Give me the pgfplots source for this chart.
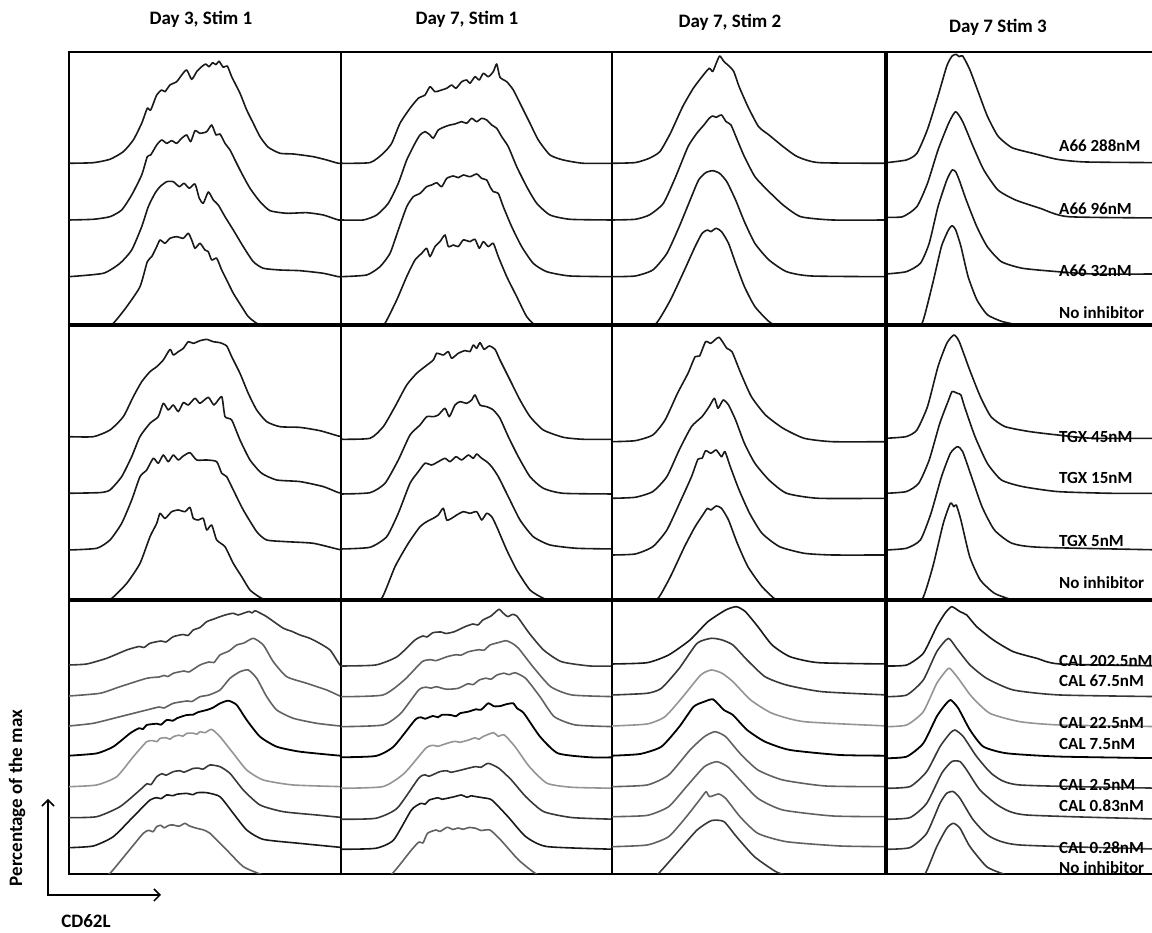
\documentclass[border=0pt]{standalone}
\usepackage{fontspec}
\setmainfont{Carlito}
\usepackage{pgfplots}
\pgfplotsset{compat=1.18}
\usetikzlibrary{arrows.meta}
\colorlet{kA}{black!90}
\colorlet{kB}{black!78}
\colorlet{kC}{black!62}
\colorlet{kD}{black!42}
\pgfplotsset{P/.style={anchor=south west, scale only axis, xmin=0, ymin=0,
  xtick=\empty, ytick=\empty, axis line style={line width=1.2pt}, clip=true,
  every axis plot/.append style={line width=1.6pt, smooth, tension=0.35, line join=round, color=kA}}}
\newcommand{\C}[3]{\addplot[#1, y filter/.expression={y+(#2)}] coordinates {#3};}
\newcommand{\lab}[2]{\node[anchor=base west, inner sep=0pt, font=\bfseries\fontsize{17}{20}\selectfont] at (1059,#1-5.5) {#2};}
\begin{document}
\begin{tikzpicture}[x=1pt,y=1pt]
\path[use as bounding box] (0,0) rectangle (1152,933);
% ================= ROW 1 =================
\begin{axis}[P, at={(69,608)}, width=272pt, height=273pt, xmax=272, ymax=273]
\C{kA}{161.7}{(0,0)(24.3,0.6)(41,4)(54.3,11.6)(64.3,23.3)(72.7,40)(78.3,55)(81.7,53.3)(87.7,68.3)(92.7,73.3)(96,71.6)(101,78.3)(107.7,81.6)(112.7,88.3)(117.7,93.3)(122.7,84)(127.7,91.6)(132.7,96.6)(136.7,99.3)(140,96.6)(143.7,100.6)(147,98.6)(150,102)(154.3,96)(158.3,97.3)(162.7,86.6)(171,70)(177.7,53.3)(184.3,40)(191,26.6)(199.3,16)(211,10)(224.3,9.3)(244.3,6.6)(257.7,3.3)(269.3,0)(275,0)}
\C{kA}{105}{(0,0)(24.3,0.7)(41,3.3)(52.7,10)(62.7,25)(72.7,45)(78.3,63.3)(81.7,65)(87.7,75)(92.7,80)(97.7,76.7)(102.7,79.3)(107.7,76.7)(112.7,81.7)(117.7,85)(121.7,78.3)(126,89.3)(131,86.7)(137.7,88.3)(142.7,95)(147,85)(151,86)(156,76.7)(161,70)(166,60)(172.7,46.7)(181,31.7)(191,18.3)(201,9.3)(217.7,6.7)(237.7,7.3)(254.3,5)(269.3,0)(275,0)}
\C{kA}{48.3}{(0,0)(34.3,3.4)(51,13.4)(62.7,26.7)(72.7,50)(79.3,70)(86,83.4)(91,90)(97.7,95)(104.3,95)(110.3,90)(115,93.4)(120.3,88.4)(126,92.7)(130.3,78.4)(134.3,73.4)(139.3,84.7)(144.3,76.7)(149.3,71.7)(156,60)(164.3,46.7)(174.3,30)(184.3,15)(194.3,8.4)(211,6.7)(231,6)(254.3,3.4)(269.3,0)(275,0)}
\C{kA}{-9}{(11,0)(31,2.3)(44.3,10.7)(57.7,27.3)(71,47.3)(78.3,72.3)(82.7,77.3)(87.7,87.3)(91,94)(96,90.7)(101,95.7)(107.7,97.3)(114.3,95.7)(119.3,100.7)(122.7,94)(126,85.7)(131,90.7)(136,84)(139.3,82.3)(142.7,74)(147.7,75.7)(152.7,64)(157.7,54)(164.3,40.7)(172.7,27.3)(179.3,17.3)(187.7,10.7)(201,4)(217.7,0)}
\end{axis}
\begin{axis}[P, at={(341,608)}, width=271pt, height=273pt, xmax=271, ymax=273]
\C{kA}{161.7}{(0,0)(29,0.7)(42.3,10)(50.7,20)(59,40)(69,55)(77.3,65)(84,68.3)(89,76.6)(94,71.6)(100.7,73.3)(105.7,75)(110.7,78.3)(115,75)(120.7,81.6)(125.7,83.3)(129,80)(134,86.6)(138.3,83.3)(142.3,90)(147.3,86.6)(152.3,91.6)(155.7,99.3)(159,86)(165.7,81.6)(172.3,73.3)(180.7,56.6)(189,40)(197.3,23.3)(209,8.3)(222.3,3.3)(242.3,0)(275,0)}
\C{kA}{105}{(0,0)(22.3,0)(35.7,5)(47.3,16.7)(57.3,36.7)(65.7,60)(74,76.7)(79,85)(84,88.3)(89,85)(92.3,81.7)(97.3,90)(104,93.3)(109,95)(114,96)(120.7,98.3)(125.7,96.7)(130.7,101.7)(135.7,98.3)(140.7,101.7)(145.7,100)(150.7,95)(155.7,91.7)(160.7,83.3)(167.3,73.3)(175.7,53.3)(185.7,33.3)(195.7,16.7)(209,5)(229,0.7)(269,0)(275,0)}
\C{kA}{48.3}{(0,0)(25.7,1.7)(39,10)(49,23.3)(57.3,46.7)(65.7,70)(72.3,80)(79,83.3)(85.7,90)(90.7,91.7)(95.7,94)(100.7,90)(105.7,98.3)(112.3,100.7)(117.3,99)(122.3,101.7)(129,100)(135.7,102.7)(140.7,98.3)(145.7,96.7)(149,90)(152.3,85)(157.3,83.3)(162.3,70)(170.7,50)(180.7,30)(192.3,13.3)(205.7,5)(229,0.7)(275,0)}
\C{kA}{-8.3}{(22.3,0)(35.7,3.3)(44,10)(55.7,33.3)(65.7,56.7)(74,73.3)(80.7,80)(85.7,85)(89,76.7)(94,86.7)(99,91.7)(104,98.3)(107.3,86.7)(112.3,88.3)(117.3,86.7)(122.3,93.3)(129,91.7)(134,94)(138.3,85)(142.3,91.7)(147.3,86.7)(152.3,90)(157.3,76.7)(165.7,56.7)(175.7,36.7)(185.7,16.7)(195.7,6.7)(209,0)}
\end{axis}
\begin{axis}[P, at={(612,608)}, width=274pt, height=273pt, xmax=274, ymax=273]
\C{kA}{161.7}{(0,0)(23.2,0.7)(37.3,5)(47.9,11.7)(58.4,30)(70.7,56.7)(81.3,75)(90.1,86.7)(97.2,95)(100.7,91.7)(104.2,100)(107.7,107.3)(112,101.7)(117.6,96.7)(121.8,91.7)(127.1,76.7)(135.9,56.7)(146.5,36.7)(157,28.3)(171.1,16.7)(185.2,6.7)(206.3,0.7)(271.5,0)(276,0)}
\C{kA}{105}{(0,0)(23.2,0.7)(37.3,5)(51.4,16.7)(63.7,43.3)(76,73.3)(84.8,86.7)(91.9,95)(97.2,101.7)(100.7,104)(104.2,102.7)(109.5,105)(114.1,98.3)(119,95)(125.3,80)(132.4,63.3)(142.9,43.3)(155.3,30)(171.1,15)(188.7,3.3)(220.4,0)(276,0)}
\C{kA}{48.3}{(0,0)(23.2,0.7)(40.8,6.7)(54.9,23.3)(67.2,50)(79.5,80)(86.6,96.7)(93.6,104)(100.7,106)(107.7,103.3)(114.8,95)(123.6,76.7)(132.4,55)(142.9,33.3)(157,16.7)(174.6,5)(199.3,0.7)(276,0)}
\C{kA}{-8.3}{(26.7,0)(44.3,10)(58.4,33.3)(72.5,63.3)(83.1,86.7)(90.1,100)(95.4,103.3)(98.9,101.7)(104.2,105)(109.5,101.7)(116.5,90)(123.6,70)(132.4,46.7)(142.9,26.7)(157,11.7)(171.1,3.3)(185.2,0)}
\end{axis}
\begin{axis}[P, at={(886,608)}, width=272pt, height=273pt, xmax=272, ymax=273]
\C{kA}{162.3}{(0,0)(20.3,2.7)(30.9,9.3)(41.5,33.3)(52,66.7)(60.8,96.7)(66.1,106.7)(70.3,108.3)(73.2,106)(76.7,106.7)(83.7,93.3)(92.5,70)(101.3,46.7)(111.9,26.7)(126,15)(147.1,9.3)(171.7,3.3)(199.9,0.7)(280,0)}
\C{kA}{107}{(0,0.7)(16.8,1.3)(30.9,11.3)(41.5,34.7)(52,68)(62.6,94.7)(69.6,106.3)(76.7,96.3)(87.2,71.3)(97.8,48)(111.9,28)(129.5,18)(154.1,9.7)(182.3,1.3)(280,0)}
\C{kA}{51}{(0,0)(20.3,2.3)(34.4,10.7)(43.2,30.7)(52,67.3)(60.8,94)(66.1,104)(69.6,102.3)(73.2,94)(80.2,74)(90.8,47.3)(101.3,27.3)(115.4,12.3)(136.5,5.7)(171.7,2.3)(207,0)(280,0)}
\C{kA}{-8}{(23.9,0)(36.2,10)(46.8,50)(55.5,86.7)(62.6,103.3)(66.1,107.3)(69.6,103.3)(74.9,86.7)(82,56.7)(90.8,33.3)(101.3,18.3)(115.4,11.7)(129.5,8.3)(154,0)}
\end{axis}
% ================= ROW 2 =================
\begin{axis}[P, at={(69,333)}, width=272pt, height=275pt, xmax=272, ymax=275]
\C{kA}{163.3}{(0,0)(24.3,0)(41,6.7)(54.3,20)(64.3,40)(72.7,55)(81,65)(87.7,70)(94.3,76.7)(101,87.3)(104.3,81.7)(109.3,85)(114.3,88.3)(119.3,95)(124.3,93.3)(131,96)(137.7,97.3)(144.3,95)(151,94)(157.7,90.7)(162.7,80)(171,63.3)(179.3,43.3)(187.7,26.7)(197.7,15)(211,10)(231,9.3)(251,6)(269.3,0.7)(275,0)}
\C{kA}{106.7}{(0,0)(31,0.7)(41,3.3)(52.7,16.7)(62.7,36.7)(71,56.7)(81,70)(89.3,76.7)(94.3,90)(99.3,83.3)(104.3,88.3)(109.3,81.7)(114.3,90.7)(119.3,88.3)(126,95)(131,90)(139.3,96)(145,88.3)(152.7,96.7)(156,76.7)(162.7,73.3)(171,53.3)(181,33.3)(192.7,20)(207.7,13.3)(231,11.7)(254.3,6.7)(269.3,0.7)(275,0)}
\C{kA}{50}{(0,0)(27.7,1.7)(41,10)(52.7,26.7)(62.7,50)(71,73.3)(77.7,80)(84.3,91.7)(89.3,86.7)(94.3,95)(99.3,88.3)(104.3,95)(109.3,90)(114.3,94)(121,97.3)(127.7,90)(137.7,90)(147.7,88.3)(152.7,76.7)(157.7,73.3)(164.3,60)(174.3,40)(187.7,18.3)(197.7,10)(217.7,8.3)(244.3,6.7)(269.3,0.7)(275,0)}
\C{kA}{-6.7}{(27.7,0)(42.7,8.3)(57.7,23.3)(71,43.3)(81,70)(87.7,83.3)(91,93.3)(96,88.3)(102.7,95)(109.3,96.7)(116,95)(121,99.3)(124.3,88.3)(129.3,86.7)(134.3,88.3)(137.7,76.7)(142.7,81.7)(147.7,66.7)(156,60)(164.3,43.3)(172.7,30)(181,16.7)(191,9.3)(204.3,3.3)(217.7,0)}
\end{axis}
\begin{axis}[P, at={(341,333)}, width=271pt, height=275pt, xmax=271, ymax=275]
\C{kA}{160.7}{(0,0)(29,1)(42.3,12.7)(54,32.7)(65.7,54.3)(75.7,66)(84,72.7)(92.3,79.3)(95.7,86)(102.3,84.3)(107.3,87.7)(110.7,81)(117.3,86)(124,88.7)(129,87.7)(132.3,94.3)(135.7,91)(139,96.7)(143,90)(148.3,93.3)(154,90)(159,79.3)(169,59.3)(179,39.3)(189,22.7)(202.3,9.3)(222.3,2)(242.3,0)(275,0)}
\C{kA}{106}{(0,0)(29,1.3)(44,10.7)(57.3,34)(69,59)(79,69)(85.7,77.3)(92.3,77.3)(97.3,79)(104,85.7)(108.3,77.3)(114,89)(119,92.3)(125.7,90.7)(130.7,94)(134,99)(139,89)(145.7,87.3)(152.3,84)(159,75.7)(167.3,57.3)(177.3,37.3)(189,17.3)(202.3,5.7)(222.3,0.7)(275,0)}
\C{kA}{51}{(0,0)(29,1.7)(45.7,12.3)(57.3,35.7)(69,65.7)(77.3,77.3)(84,85.7)(90.7,84)(97.3,87.3)(104,90.7)(109,87.3)(115,92.3)(120.7,89)(127.3,94)(132.3,90.7)(135.7,95)(140.7,90.7)(145.7,87.3)(150.7,82.3)(157.3,72.3)(167.3,52.3)(179,29)(192.3,12.3)(209,4)(235.7,0.7)(275,0)}
\C{kA}{-4}{(25.7,0)(40.7,5.7)(54,37.3)(67.3,60.7)(79,77.3)(85.7,82.3)(92.3,85.7)(97.3,89)(102.3,95.7)(105.7,84)(110.7,85.7)(115.7,89)(122.3,92.3)(129,90.7)(135.7,92.3)(140.7,84)(145.7,90.7)(150.7,87.3)(155.7,77.3)(165.7,54)(175.7,34)(189,14)(202.3,5.7)(215.7,0.7)}
\end{axis}
\begin{axis}[P, at={(612,333)}, width=274pt, height=275pt, xmax=274, ymax=275]
\C{kA}{158.3}{(0,0)(23.2,1)(40.8,6.7)(53.1,21.7)(65.5,48.4)(76,68.4)(83.1,85)(87.6,85.7)(93.6,100)(98.9,98.4)(107,104.4)(114.8,93.4)(120,90)(128.8,68.4)(139.4,45)(153.5,26.7)(171.1,13.4)(192.2,3.4)(220.4,0)(276,0)}
\C{kA}{101.7}{(0,0)(23.2,1)(40.8,6.7)(54.9,21.7)(67.2,48.3)(79.5,71.7)(90.1,81.7)(97.2,91.7)(102.4,100)(106,90)(111.2,98.3)(116.5,93.3)(123.6,78.3)(132.4,55)(142.9,35)(157,18.3)(174.6,5)(206.3,0)(276,0)}
\C{kA}{45}{(0,0)(23.2,1)(40.8,8.3)(54.9,25)(69,55)(79.5,78.3)(85.9,95.7)(90.1,96.7)(93.6,104.3)(98.9,101.7)(104.2,105)(109.5,98.3)(113,103.3)(118.3,88.3)(127.1,65)(137.6,41.7)(150,21.7)(167.6,8.3)(192.2,1.7)(220.4,0)(276,0)}
\C{kA}{-11.7}{(23.2,0)(33.8,8.4)(46.1,13.4)(58.4,35)(72.5,65)(83.1,85)(91.9,98.4)(95.4,103.4)(98.9,101.7)(104.2,105.7)(109.5,103.4)(116.5,91.7)(125.3,68.4)(135.9,45)(150,25)(164.1,11.7)(178.1,5)(192.2,0)}
\end{axis}
\begin{axis}[P, at={(886,333)}, width=272pt, height=275pt, xmax=272, ymax=275]
\C{kA}{161.7}{(0,0)(20.3,1.7)(30.9,8.3)(41.5,31.7)(52,71.7)(60.8,95)(67.9,103.3)(73.2,96.7)(83.7,68.3)(94.3,41.7)(104.9,21.7)(118.9,11.7)(143.6,6.7)(171.7,3.3)(207,0)(280,0)}
\C{kA}{106.7}{(0,0)(20.3,1.7)(32.7,10)(43.2,33.3)(53.8,70)(62.6,93.3)(66.1,101.7)(71.4,100)(74.9,98.3)(78.5,86.7)(89,56.7)(101.3,30)(115.4,13.3)(136.5,6.7)(171.7,1.7)(224.6,0)(280,0)}
\C{kA}{50}{(0,0)(20.3,1.7)(34.4,10)(45,36.7)(55.5,73.3)(64.4,96.7)(71.4,103.3)(76.7,98.3)(85.5,73.3)(96,43.3)(108.4,20)(126,6.7)(154.1,2.7)(280,0)}
\C{kA}{-6}{(20.3,0)(36.2,6.7)(46.8,39.3)(57.3,82.7)(64.4,102.7)(67.9,99.3)(70.3,101)(74.9,86)(83.7,49.3)(94.3,26)(108.4,12.7)(124.2,6.7)(143.6,0)}
\end{axis}
% ================= ROW 3 =================
\begin{axis}[P, at={(69,59)}, width=272pt, height=274pt, xmax=272, ymax=274]
\C{kB}{209}{(0,0)(17.7,1)(37.7,6.7)(57.7,15)(70,18.5)(75,17.5)(81,21.7)(92,24)(97,23)(104.3,28.3)(114,30.5)(119,29.5)(124.3,35)(131,37.5)(137.7,43.3)(145,46)(151,48.3)(158,50.5)(164.3,51.7)(169,50)(174.3,51.7)(180,53.5)(183,52)(186,54.3)(190,52.5)(197.7,48.3)(214.3,36.7)(222,34)(231,30)(240,27)(247.7,23.3)(261,15)(271,0)(275,0)}
\C{kC}{178}{(0,0)(31,2.7)(51,9.3)(77.7,17.7)(90,19)(95,20.5)(99,19.5)(104.3,22.7)(115,25)(120,24)(131,31)(140,34)(145,33.5)(151,41)(160,45)(167.7,51)(175,53)(184.3,57.7)(194.3,51)(204.3,34.3)(217.7,19.3)(237.7,12.7)(257.7,6)(271,0)(275,0)}
\C{kC}{148}{(0,0)(24.3,2.7)(51,9.3)(77.7,16)(90,19)(95,18)(104.3,22.7)(118,25)(123,24.5)(131,29.3)(140,31)(151,36)(161,47.7)(171,54.3)(179.3,56)(187.7,47.7)(197.7,29.3)(207.7,16)(224.3,7.7)(247.7,2.7)(271,0)(275,0)}
\C{black, line width=1.8pt}{118.3}{(0,0)(27.7,2.3)(44.3,9)(61,22.3)(70,27.5)(74,26.5)(77.7,30.7)(88,32)(92,31)(97.7,35.7)(104,35)(108,37.5)(117.7,40.7)(124,41)(129,43.5)(137.7,45.7)(144,48)(151,52.3)(159.3,55)(167.7,50.7)(177.7,35.7)(191,19)(207.7,9)(231,4)(271,0)(275,0)}
\C{kD}{87.3}{(0,0)(27.7,1.7)(47.7,10)(64.3,30)(77.7,45)(84,46)(88,45)(91,48.3)(97,49)(101,47.5)(104.3,50)(110,51.5)(114,50.5)(117.7,53.3)(124,53.5)(128,52.5)(131,55)(136,54)(142.7,57.3)(151,50)(164.3,33.3)(177.7,16.7)(194.3,6.7)(224.3,1.7)(275,0)}
\C{kB}{56.3}{(0,0)(27.7,1)(51,11)(71,27.7)(78,34)(82,33)(87.7,41)(93,44)(97,42.5)(104.3,46)(111,47)(115,45.5)(124.3,49.3)(130,49.5)(134,48.5)(141,52.7)(151,51)(161,44.3)(174.3,27.7)(191,12.7)(214.3,6)(247.7,2.7)(275,0)}
\C{kA}{26.3}{(0,0)(24.3,1.7)(44.3,11)(64.3,31)(81,47.7)(88,50)(92,49)(97.7,52.7)(104,52)(108,53.5)(117.7,54.3)(124,53)(128,55)(137.7,55)(151,51)(164.3,34.3)(177.7,17.7)(194.3,8.3)(231,4.3)(275,0)}
\C{kC}{-4.3}{(31,0)(41,5)(57.7,25)(74.3,45)(80,48)(84,46.5)(87.7,51.7)(92,53)(95,50.5)(100,53)(104.3,53.3)(110,52)(116,55)(120,52.5)(127.7,50)(134,48.5)(141,45)(157.7,28.3)(174.3,11.7)(191,4.3)(204.3,0)}
\end{axis}
\begin{axis}[P, at={(341,59)}, width=271pt, height=274pt, xmax=271, ymax=274]
\C{kB}{208}{(0,0)(34.7,1)(56.1,9.3)(74,26)(82,30)(86,29)(91.9,33.3)(100,34)(105,32.5)(113.3,34.3)(124,39.3)(132,42)(137,41)(141.9,46)(150,50)(157.9,56.7)(162,53)(166.9,49.3)(171,51.5)(175.8,50)(188.3,32.7)(202.6,16)(220.4,4.3)(249,0)(275,0)}
\C{kC}{177.3}{(0,0)(41.9,1.7)(63.3,16.7)(81.1,35)(90,37)(95,36)(106.1,40)(115,42)(120,41.5)(127.6,45)(138,47)(143,46.5)(149,51.7)(157,54)(165.1,56)(171,53.5)(177.6,48.3)(191.9,30)(209.7,10)(231.1,1.7)(275,0)}
\C{kC}{147.3}{(0,0)(41.9,1.7)(59.7,13.3)(77.6,36.7)(85,39.5)(90,38.5)(95.4,40)(105,37.5)(116.9,38.3)(127,43)(132,42)(138.3,46.7)(145,48.5)(150,47.5)(156.1,51.7)(163,53.5)(168,52)(174,54)(184.7,48.3)(199,30)(213.3,10)(234.7,1.7)(275,0)}
\C{black, line width=1.8pt}{116.7}{(0,0)(34.7,1.3)(52.6,10.7)(74,37.3)(80,40)(84,38.5)(91.9,41.3)(97,40)(101,42.5)(109.7,42.3)(115,41)(119,44)(127.6,45.7)(135,48)(140,47.5)(147.2,54)(153,51)(159.7,51.3)(165,53)(172.2,54)(176,49)(182.9,44)(199,20.7)(216.9,4)(249,0)(275,0)}
\C{kD}{85.7}{(0,0)(41.9,1.7)(63.3,15)(84.7,40)(92,43)(97,42)(106.1,45)(114,47)(119,46)(127.6,48.3)(134,50.5)(138,49)(141.9,51.7)(152.6,55.7)(157,52)(163.3,53.3)(174,41.7)(188.3,21.7)(206.1,5)(231.1,1)(275,0)}
\C{kB}{54.7}{(0,0)(34.7,1)(56.1,11)(77.6,41)(84,44.5)(88,43)(99,47.7)(106,48.5)(110,47)(120.4,49.3)(127,51)(134.7,52.7)(140,52)(147.2,56)(157.9,51)(170.4,39.3)(184.7,22.7)(202.6,7.7)(231.1,1.7)(275,0)}
\C{kA}{24.7}{(0,0)(34.7,1)(52.6,9.3)(70.4,39.3)(80,46)(84,45)(88.3,49.3)(97,51.5)(101,50)(106.1,51)(113,52.5)(120.4,54.3)(126,52)(130,53.5)(134.7,52.7)(142,51.5)(150.8,49.3)(166.9,32.7)(184.7,12.7)(206.1,2.7)(275,0)}
\C{kC}{-6}{(34.7,0)(50.8,6)(70.4,30)(78,38)(82,37)(86.5,46.7)(95,50)(99,48.5)(106.1,52.7)(112,50.5)(117,52)(122.2,50.7)(128,52.5)(134.7,51.7)(140,49.5)(149,50)(159.7,40)(177.6,20)(195.4,6)(213.3,0)}
\end{axis}
\begin{axis}[P, at={(612,59)}, width=274pt, height=274pt, xmax=274, ymax=274]
\C{kA}{210}{(0,0)(35.1,1.3)(56.6,9)(78,24)(95.9,42.3)(113.7,54)(124.4,57.3)(133.4,52.3)(145.9,37.3)(160.1,19)(178,7.3)(206.6,1.3)(276,0)}
\C{kB}{179}{(0,0)(35.1,1.7)(49.4,6.7)(67.3,26.7)(85.1,51.7)(99.4,56.7)(110.1,55)(120.9,50)(135.1,35)(153,18.3)(174.4,10)(210.1,3.3)(276,0)}
\C{kD}{148}{(0,0)(35.1,2)(53,9.3)(70.9,29.3)(88.7,51)(99.4,56)(110.1,52.7)(120.9,44.3)(138.7,26)(160.1,12.7)(192.3,4.3)(276,0)}
\C{black, line width=1.8pt}{118.3}{(0,0)(28,1.7)(49.4,9)(67.3,29)(81.6,49)(92.3,54)(101.2,56.3)(111.9,45.7)(120.9,40.7)(135.1,25.7)(153,14)(178,5.7)(228,0.7)(276,0)}
\C{kC}{87.3}{(0,0)(35.1,1.7)(56.6,11.7)(78,36.7)(92.3,50)(103,55)(113.7,50)(128,33.3)(145.9,16.7)(170.9,6.7)(213.7,0.7)(276,0)}
\C{kC}{57.3}{(0,0)(35.1,1.3)(56.6,10)(74.4,30)(92.3,50)(104.8,55)(115.5,50)(128,36.7)(145.9,18.3)(170.9,6.7)(220.9,0.7)(276,0)}
\C{kC}{27.3}{(0,0)(35.1,1.7)(56.6,10)(74.4,30)(88.7,48.3)(94.1,55)(97.6,50)(106.6,52.7)(113.7,48.3)(128,30)(145.9,13.3)(174.4,5)(228,0.7)(276,0)}
\C{kB}{-3.3}{(35.1,0)(45.9,3.3)(67.3,27.3)(85.1,47.3)(99.4,56.7)(111.9,55.7)(124.4,40.7)(142.3,20.7)(163.7,5.7)(174.4,2.3)(192.3,0)}
\end{axis}
\begin{axis}[P, at={(886,59)}, width=272pt, height=274pt, xmax=272, ymax=274]
\C{kA}{208}{(0,0)(20.7,1)(37.3,12.7)(50.7,39.3)(59,52.7)(65.7,59.3)(74,54.3)(80.7,51)(90.7,39.3)(107.3,26)(127.3,14.3)(150.7,7.7)(174,2)(280,0)}
\C{kB}{177.3}{(0,0)(20.7,1.7)(37.3,16.7)(50.7,45)(62.3,58.3)(70.7,48.3)(84,31.7)(100.7,18.3)(127.3,6.7)(174,1.7)(280,0)}
\C{kD}{147.3}{(0,0)(20.7,1.7)(37.3,15)(50.7,43.3)(60.7,56.7)(64,58.3)(72.3,48.3)(85.7,30)(104,13.3)(134,5)(174,1.7)(280,0)}
\C{black, line width=1.8pt}{115.7}{(0,0)(20.7,1.7)(37.3,15)(50.7,41.7)(59,53.3)(64.7,58.3)(72.3,50)(84,28.3)(97.3,11.7)(120.7,5)(174,1.7)(280,0)}
\C{kB}{85.7}{(0,0)(24,1.7)(40.7,16.7)(54,41.7)(64,55)(69,58.3)(77.3,51.7)(90.7,31.7)(107.3,13.3)(134,3.3)(280,0)}
\C{kB}{54.7}{(0,0)(24,1.7)(40.7,16)(55.7,46)(65.7,57.7)(74,57.7)(80.7,49.3)(94,29.3)(114,12.7)(140.7,4.3)(280,0)}
\C{kB}{24.7}{(0,0)(24,1.7)(40.7,16)(54,46)(60.7,56)(67.3,57.7)(74,51)(87.3,29.3)(104,12.7)(134,4.3)(280,0)}
\C{kB}{-6}{(27.3,0)(39,6)(50.7,33.3)(60.7,51.7)(67.3,56.7)(74,51.7)(84,33.3)(100.7,13.3)(117.3,6)(134,0)}
\end{axis}
% thick separators
\draw[line width=3.5pt] (69,608) -- (1160,608);
\draw[line width=3.5pt] (69,333) -- (1160,333);
\draw[line width=3.5pt] (886,59) -- (886,881);
% column titles
\begin{scope}[every node/.style={anchor=base, inner sep=0pt, font=\bfseries\fontsize{19}{23}\selectfont}]
\node at (201,908) {Day 3, Stim 1};
\node at (467,908) {Day 7, Stim 1};
\node at (730,905) {Day 7, Stim 2};
\node at (998,900) {Day 7 Stim 3};
\end{scope}
% row labels
\lab{787}{A66 288nM}
\lab{724}{A66 96nM}
\lab{662}{A66 32nM}
\lab{620}{No inhibitor}
\lab{496}{TGX 45nM}
\lab{455}{TGX 15nM}
\lab{392}{TGX 5nM}
\lab{350}{No inhibitor}
\lab{272.3}{CAL 202.5nM}
\lab{252.3}{CAL 67.5nM}
\lab{210}{CAL 22.5nM}
\lab{189}{CAL 7.5nM}
\lab{148}{CAL 2.5nM}
\lab{127}{CAL 0.83nM}
\lab{85}{CAL 0.28nM}
\lab{65}{No inhibitor}
% axis arrows
\draw[line width=1.5pt, -{Straight Barb[length=6pt,width=12pt]}] (48,37.3) -- (48,134);
\draw[line width=1.5pt, -{Straight Barb[length=6pt,width=12pt]}] (47.25,38) -- (161,38);
\node[rotate=90, inner sep=0pt, font=\bfseries\fontsize{19}{23}\selectfont] at (17,135) {Percentage of the max};
\node[inner sep=0pt, font=\bfseries\fontsize{19}{23}\selectfont] at (86,12) {CD62L};
\end{tikzpicture}
\end{document}
